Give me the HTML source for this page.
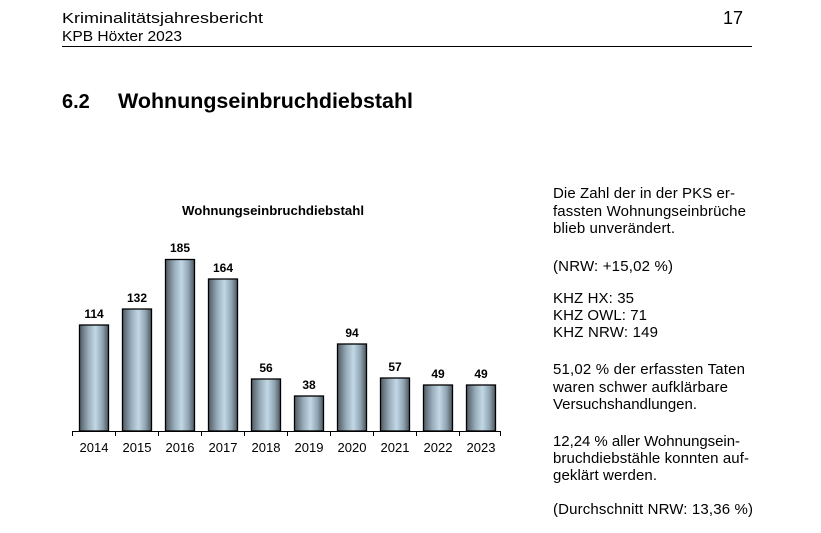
<!DOCTYPE html>
<html><head><meta charset="utf-8"><style>
html,body{margin:0;padding:0;background:#fff;}
svg{display:block;font-family:"Liberation Sans",Arial,sans-serif;}
</style></head><body>
<svg width="821" height="533" viewBox="0 0 821 533" xmlns="http://www.w3.org/2000/svg">
<defs>
<linearGradient id="g" x1="0" x2="1" y1="0" y2="0">
<stop offset="0" stop-color="#4f5a63"/>
<stop offset="0.3" stop-color="#97abb8"/>
<stop offset="0.55" stop-color="#c3d8e6"/>
<stop offset="0.8" stop-color="#8ea2b0"/>
<stop offset="1" stop-color="#4a555e"/>
</linearGradient>
</defs>
<text x="62" y="23" font-size="15" textLength="201" lengthAdjust="spacingAndGlyphs">Kriminalitätsjahresbericht</text>
<text x="62" y="41" font-size="15" textLength="120" lengthAdjust="spacingAndGlyphs">KPB Höxter 2023</text>
<text x="723" y="24" font-size="18">17</text>
<line x1="62" y1="46.5" x2="752" y2="46.5" stroke="#000" stroke-width="1"/>
<text x="62" y="108" font-size="20" font-weight="bold">6.2</text>
<text x="118" y="108" font-size="21" font-weight="bold" textLength="295" lengthAdjust="spacingAndGlyphs">Wohnungseinbruchdiebstahl</text>
<text x="182" y="215" font-size="13" font-weight="bold" textLength="182" lengthAdjust="spacingAndGlyphs">Wohnungseinbruchdiebstahl</text>
<g stroke="#000" stroke-width="1.3" fill="url(#g)">
<rect x="79.5" y="325" width="29" height="106"/>
<rect x="122.5" y="309" width="29" height="122"/>
<rect x="165.5" y="259.5" width="29" height="171.5"/>
<rect x="208.5" y="279" width="29" height="152"/>
<rect x="251.5" y="379" width="29" height="52"/>
<rect x="294.5" y="396" width="29" height="35"/>
<rect x="337.5" y="344" width="29" height="87"/>
<rect x="380.5" y="378" width="29" height="53"/>
<rect x="423.5" y="385" width="29" height="46"/>
<rect x="466.5" y="385" width="29" height="46"/>
</g>
<g stroke="#000" stroke-width="1">
<line x1="72" y1="431.5" x2="501" y2="431.5"/>
<line x1="72.5" y1="431" x2="72.5" y2="436"/><line x1="115.5" y1="431" x2="115.5" y2="436"/>
<line x1="158.5" y1="431" x2="158.5" y2="436"/><line x1="201.5" y1="431" x2="201.5" y2="436"/>
<line x1="244.5" y1="431" x2="244.5" y2="436"/><line x1="287.5" y1="431" x2="287.5" y2="436"/>
<line x1="330.5" y1="431" x2="330.5" y2="436"/><line x1="373.5" y1="431" x2="373.5" y2="436"/>
<line x1="416.5" y1="431" x2="416.5" y2="436"/><line x1="459.5" y1="431" x2="459.5" y2="436"/>
<line x1="500.5" y1="431" x2="500.5" y2="436"/>
</g>
<g font-size="12" font-weight="bold" text-anchor="middle">
<text x="94" y="318">114</text><text x="137" y="302">132</text><text x="180" y="252">185</text>
<text x="223" y="272">164</text><text x="266" y="372">56</text><text x="309" y="389">38</text>
<text x="352" y="337">94</text><text x="395" y="371">57</text><text x="438" y="378">49</text>
<text x="481" y="378">49</text>
</g>
<g font-size="13" text-anchor="middle">
<text x="94" y="452">2014</text><text x="137" y="452">2015</text><text x="180" y="452">2016</text>
<text x="223" y="452">2017</text><text x="266" y="452">2018</text><text x="309" y="452">2019</text>
<text x="352" y="452">2020</text><text x="395" y="452">2021</text><text x="438" y="452">2022</text>
<text x="481" y="452">2023</text>
</g>
<g font-size="15" lengthAdjust="spacingAndGlyphs">
<text x="553" y="198" textLength="182">Die Zahl der in der PKS er-</text>
<text x="553" y="216" textLength="193">fassten Wohnungseinbrüche</text>
<text x="553" y="233" textLength="122">blieb unverändert.</text>
<text x="553" y="271" textLength="120">(NRW: +15,02 %)</text>
<text x="553" y="303" textLength="81">KHZ HX: 35</text>
<text x="553" y="320" textLength="94">KHZ OWL: 71</text>
<text x="553" y="337" textLength="105">KHZ NRW: 149</text>
<text x="553" y="374" textLength="192">51,02 % der erfassten Taten</text>
<text x="553" y="392" textLength="175">waren schwer aufklärbare</text>
<text x="553" y="409" textLength="144">Versuchshandlungen.</text>
<text x="553" y="446" textLength="187">12,24 % aller Wohnungsein-</text>
<text x="553" y="463" textLength="196">bruchdiebstähle konnten auf-</text>
<text x="553" y="480" textLength="104">geklärt werden.</text>
<text x="553" y="514" textLength="200">(Durchschnitt NRW: 13,36 %)</text>
</g>
</svg>
</body></html>
